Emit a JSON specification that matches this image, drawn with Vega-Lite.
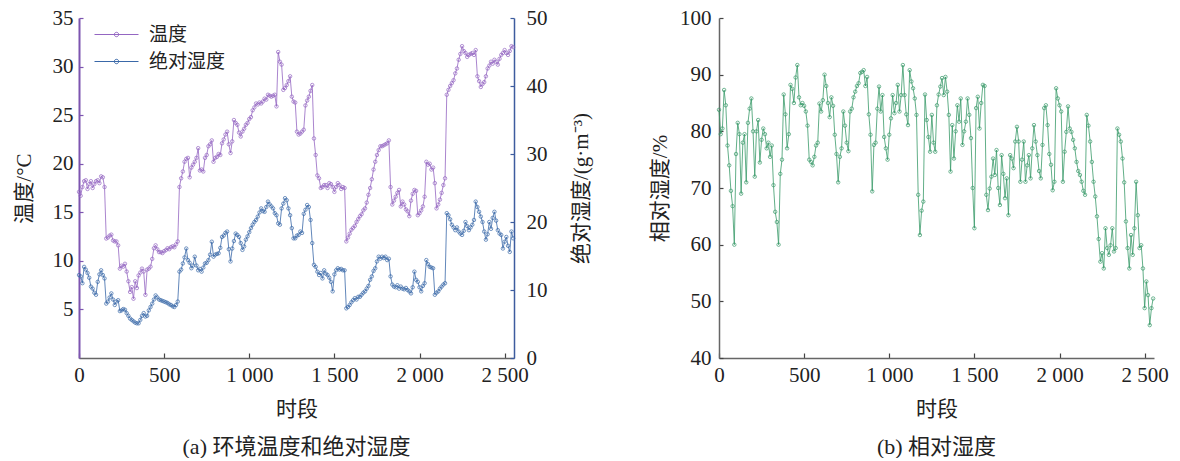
{
  "$schema": "https://vega.github.io/schema/vega-lite/v6.json",
  "background": "white",
  "padding": {"left": 13, "top": 7, "right": 0, "bottom": 0},
  "spacing": 58,
  "config": {
    "view": {"stroke": null},
    "axis": {"grid": false, "labelFont": "Liberation Serif", "labelFontSize": 21, "labelColor": "#222", "titleFont": "Liberation Serif, Noto Sans CJK SC", "titleFontSize": 21, "titleFontWeight": "normal", "titleColor": "#222", "tickWidth": 1.2},
    "title": {"font": "Liberation Serif, Noto Sans CJK SC", "fontSize": 22, "fontWeight": "normal", "color": "#222"}
  },
  "datasets": {
    "d": [
      {"t":0,"temp":17.1,"ah":12.2,"rh":83.8},{"t":10,"temp":16.7,"ah":12.0,"rh":79.5},{"t":20,"temp":17.6,"ah":11.0,"rh":80.5},{"t":30,"temp":18.2,"ah":13.4,"rh":87.3},{"t":40,"temp":18.3,"ah":13.0,"rh":84.6},{"t":50,"temp":17.4,"ah":12.5,"rh":77.5},{"t":60,"temp":17.9,"ah":11.8,"rh":74.0},{"t":70,"temp":18.2,"ah":10.5,"rh":69.5},{"t":80,"temp":17.5,"ah":10.2,"rh":66.8},{"t":90,"temp":17.9,"ah":9.6,"rh":60.0},
      {"t":100,"temp":18.2,"ah":9.3,"rh":76.0},{"t":110,"temp":18.3,"ah":11.2,"rh":81.5},{"t":120,"temp":18.0,"ah":12.3,"rh":79.5},{"t":130,"temp":18.7,"ah":12.9,"rh":69.0},{"t":140,"temp":18.6,"ah":12.2,"rh":78.0},{"t":150,"temp":17.6,"ah":11.7,"rh":79.5},{"t":160,"temp":12.3,"ah":8.0,"rh":71.0},{"t":170,"temp":12.4,"ah":8.3,"rh":81.5},{"t":180,"temp":12.6,"ah":8.9,"rh":84.0},{"t":190,"temp":12.7,"ah":9.5,"rh":85.8},
      {"t":200,"temp":12.1,"ah":8.6,"rh":80.0},{"t":210,"temp":12.0,"ah":7.8,"rh":72.0},{"t":220,"temp":12.0,"ah":8.3,"rh":80.0},{"t":230,"temp":11.6,"ah":8.5,"rh":82.0},{"t":240,"temp":9.2,"ah":6.9,"rh":74.5},{"t":250,"temp":9.5,"ah":7.0,"rh":78.5},{"t":260,"temp":9.4,"ah":7.2,"rh":80.5},{"t":270,"temp":9.7,"ah":7.1,"rh":79.5},{"t":280,"temp":8.9,"ah":6.6,"rh":77.0},{"t":290,"temp":7.9,"ah":6.2,"rh":78.0},
      {"t":300,"temp":6.8,"ah":5.8,"rh":75.5},{"t":310,"temp":7.3,"ah":5.6,"rh":77.5},{"t":320,"temp":6.1,"ah":5.4,"rh":70.5},{"t":330,"temp":7.9,"ah":5.2,"rh":65.8},{"t":340,"temp":7.2,"ah":5.1,"rh":64.0},{"t":350,"temp":8.5,"ah":5.1,"rh":60.0},{"t":360,"temp":8.8,"ah":5.6,"rh":72.5},{"t":370,"temp":9.2,"ah":6.2,"rh":75.0},{"t":380,"temp":8.9,"ah":6.6,"rh":86.5},{"t":390,"temp":6.5,"ah":6.1,"rh":83.0},
      {"t":400,"temp":9.1,"ah":6.2,"rh":77.0},{"t":410,"temp":9.2,"ah":7.0,"rh":79.5},{"t":420,"temp":9.4,"ah":7.5,"rh":88.2},{"t":430,"temp":10.2,"ah":8.0,"rh":87.5},{"t":440,"temp":11.3,"ah":8.6,"rh":85.0},{"t":450,"temp":11.6,"ah":9.2,"rh":89.5},{"t":460,"temp":11.2,"ah":8.9,"rh":91.7},{"t":470,"temp":10.9,"ah":8.6,"rh":86.0},{"t":480,"temp":10.9,"ah":8.5,"rh":84.6},{"t":490,"temp":10.8,"ah":8.4,"rh":85.0},
      {"t":500,"temp":11.0,"ah":8.3,"rh":84.5},{"t":510,"temp":11.1,"ah":8.2,"rh":83.5},{"t":520,"temp":11.3,"ah":8.1,"rh":81.0},{"t":530,"temp":11.2,"ah":7.9,"rh":75.0},{"t":540,"temp":11.4,"ah":7.8,"rh":74.6},{"t":550,"temp":11.5,"ah":7.6,"rh":74.0},{"t":560,"temp":11.4,"ah":7.5,"rh":75.5},{"t":570,"temp":11.7,"ah":7.8,"rh":77.5},{"t":580,"temp":12.0,"ah":8.3,"rh":78.0},{"t":590,"temp":17.6,"ah":12.7,"rh":84.9},
      {"t":600,"temp":18.5,"ah":13.0,"rh":83.5},{"t":610,"temp":19.2,"ah":13.9,"rh":85.5},{"t":620,"temp":20.2,"ah":14.8,"rh":90.0},{"t":630,"temp":20.5,"ah":16.1,"rh":88.0},{"t":640,"temp":20.6,"ah":14.4,"rh":85.0},{"t":650,"temp":18.6,"ah":14.0,"rh":82.5},{"t":660,"temp":19.6,"ah":13.2,"rh":86.0},{"t":670,"temp":19.9,"ah":13.6,"rh":84.5},{"t":680,"temp":20.2,"ah":14.9,"rh":79.4},{"t":690,"temp":20.6,"ah":13.6,"rh":76.0},
      {"t":700,"temp":21.6,"ah":12.9,"rh":71.0},{"t":710,"temp":19.3,"ah":13.1,"rh":75.5},{"t":720,"temp":19.4,"ah":12.7,"rh":77.0},{"t":730,"temp":19.2,"ah":13.3,"rh":83.5},{"t":740,"temp":20.6,"ah":13.9,"rh":81.0},{"t":750,"temp":20.9,"ah":14.0,"rh":78.0},{"t":760,"temp":21.8,"ah":14.4,"rh":76.5},{"t":770,"temp":22.0,"ah":15.2,"rh":83.5},{"t":780,"temp":22.4,"ah":17.1,"rh":84.0},{"t":790,"temp":20.2,"ah":14.9,"rh":86.0},
      {"t":800,"temp":20.6,"ah":15.2,"rh":87.0},{"t":810,"temp":20.7,"ah":15.3,"rh":88.0},{"t":820,"temp":21.0,"ah":15.4,"rh":88.5},{"t":830,"temp":20.9,"ah":16.2,"rh":90.3},{"t":840,"temp":22.1,"ah":17.8,"rh":90.5},{"t":850,"temp":22.5,"ah":18.0,"rh":90.8},{"t":860,"temp":23.0,"ah":18.4,"rh":88.0},{"t":870,"temp":23.3,"ah":18.6,"rh":89.6},{"t":880,"temp":22.0,"ah":16.0,"rh":83.0},{"t":890,"temp":21.1,"ah":14.2,"rh":79.4},
      {"t":900,"temp":22.3,"ah":16.1,"rh":69.4},{"t":910,"temp":24.5,"ah":17.2,"rh":77.6},{"t":920,"temp":24.2,"ah":18.3,"rh":78.0},{"t":930,"temp":24.0,"ah":18.1,"rh":84.0},{"t":940,"temp":23.2,"ah":17.8,"rh":87.9},{"t":950,"temp":22.8,"ah":16.9,"rh":83.5},{"t":960,"temp":23.3,"ah":15.9,"rh":86.4},{"t":970,"temp":23.6,"ah":16.4,"rh":79.0},{"t":980,"temp":24.0,"ah":17.4,"rh":77.0},{"t":990,"temp":24.2,"ah":17.9,"rh":75.0},
      {"t":1000,"temp":24.6,"ah":18.5,"rh":79.4},{"t":1010,"temp":24.8,"ah":19.1,"rh":82.3},{"t":1020,"temp":25.5,"ah":19.6,"rh":86.4},{"t":1030,"temp":25.8,"ah":20.0,"rh":83.2},{"t":1040,"temp":26.2,"ah":20.3,"rh":85.0},{"t":1050,"temp":26.1,"ah":20.8,"rh":88.2},{"t":1060,"temp":26.3,"ah":21.4,"rh":83.5},{"t":1070,"temp":26.2,"ah":22.0,"rh":86.4},{"t":1080,"temp":26.4,"ah":21.6,"rh":91.7},{"t":1090,"temp":26.7,"ah":21.5,"rh":86.4},
      {"t":1100,"temp":26.6,"ah":22.2,"rh":83.0},{"t":1110,"temp":27.1,"ah":23.0,"rh":81.1},{"t":1120,"temp":27.0,"ah":22.6,"rh":90.8},{"t":1130,"temp":26.9,"ah":22.3,"rh":88.8},{"t":1140,"temp":27.0,"ah":22.0,"rh":87.6},{"t":1150,"temp":27.1,"ah":21.3,"rh":85.8},{"t":1160,"temp":25.9,"ah":21.0,"rh":82.9},{"t":1170,"temp":31.5,"ah":19.8,"rh":68.8},{"t":1180,"temp":30.5,"ah":19.6,"rh":61.7},{"t":1190,"temp":30.2,"ah":22.0,"rh":66.0},
      {"t":1200,"temp":27.6,"ah":22.7,"rh":67.6},{"t":1210,"temp":27.8,"ah":23.5,"rh":86.5},{"t":1220,"temp":28.1,"ah":23.2,"rh":82.0},{"t":1230,"temp":28.5,"ah":22.0,"rh":79.0},{"t":1240,"temp":29.0,"ah":21.0,"rh":76.4},{"t":1250,"temp":26.9,"ah":19.1,"rh":82.9},{"t":1260,"temp":26.4,"ah":17.6,"rh":78.0},{"t":1270,"temp":26.3,"ah":17.6,"rh":76.4},{"t":1280,"temp":23.3,"ah":18.0,"rh":84.6},{"t":1290,"temp":23.0,"ah":18.1,"rh":86.5},
      {"t":1300,"temp":23.1,"ah":18.6,"rh":87.9},{"t":1310,"temp":23.3,"ah":18.4,"rh":89.4},{"t":1320,"temp":23.5,"ah":21.2,"rh":86.4},{"t":1330,"temp":26.0,"ah":21.8,"rh":89.6},{"t":1340,"temp":26.5,"ah":22.5,"rh":87.0},{"t":1350,"temp":26.9,"ah":22.2,"rh":82.9},{"t":1360,"temp":27.5,"ah":20.3,"rh":72.9},{"t":1370,"temp":28.1,"ah":16.9,"rh":81.1},{"t":1380,"temp":22.6,"ah":13.7,"rh":75.2},{"t":1390,"temp":20.9,"ah":13.4,"rh":80.0},
      {"t":1400,"temp":18.8,"ah":12.7,"rh":84.6},{"t":1410,"temp":18.5,"ah":12.2,"rh":81.7},{"t":1420,"temp":17.5,"ah":12.5,"rh":85.8},{"t":1430,"temp":17.6,"ah":11.7,"rh":77.6},{"t":1440,"temp":17.8,"ah":12.9,"rh":80.0},{"t":1450,"temp":17.8,"ah":12.4,"rh":81.7},{"t":1460,"temp":17.5,"ah":12.2,"rh":85.8},{"t":1470,"temp":18.0,"ah":11.8,"rh":82.9},{"t":1480,"temp":17.9,"ah":11.2,"rh":78.8},{"t":1490,"temp":17.6,"ah":9.8,"rh":70.0},
      {"t":1500,"temp":17.1,"ah":12.3,"rh":62.9},{"t":1510,"temp":17.6,"ah":12.9,"rh":84.1},{"t":1520,"temp":18.0,"ah":13.2,"rh":86.1},{"t":1530,"temp":17.8,"ah":13.0,"rh":80.5},{"t":1540,"temp":17.4,"ah":13.1,"rh":85.0},{"t":1550,"temp":17.6,"ah":12.9,"rh":88.2},{"t":1560,"temp":17.5,"ah":12.9,"rh":88.0},{"t":1570,"temp":12.0,"ah":7.3,"rh":68.8},{"t":1580,"temp":12.4,"ah":7.5,"rh":66.1},{"t":1590,"temp":12.8,"ah":7.8,"rh":69.9},
      {"t":1600,"temp":13.2,"ah":8.2,"rh":72.0},{"t":1610,"temp":13.4,"ah":8.5,"rh":75.2},{"t":1620,"temp":13.6,"ah":8.8,"rh":72.3},{"t":1630,"temp":14.0,"ah":8.6,"rh":76.7},{"t":1640,"temp":14.3,"ah":9.0,"rh":70.0},{"t":1650,"temp":14.6,"ah":9.0,"rh":67.0},{"t":1660,"temp":14.8,"ah":9.3,"rh":75.8},{"t":1670,"temp":15.2,"ah":9.6,"rh":72.5},{"t":1680,"temp":15.4,"ah":9.8,"rh":68.2},{"t":1690,"temp":16.0,"ah":10.2,"rh":71.7},
      {"t":1700,"temp":16.8,"ah":10.6,"rh":65.2},{"t":1710,"temp":17.5,"ah":11.5,"rh":75.8},{"t":1720,"temp":18.4,"ah":12.0,"rh":75.2},{"t":1730,"temp":19.4,"ah":12.8,"rh":73.5},{"t":1740,"temp":20.2,"ah":13.2,"rh":78.2},{"t":1750,"temp":20.9,"ah":14.2,"rh":80.8},{"t":1760,"temp":21.4,"ah":14.9,"rh":78.2},{"t":1770,"temp":21.8,"ah":14.6,"rh":71.1},{"t":1780,"temp":21.8,"ah":14.9,"rh":75.0},{"t":1790,"temp":21.9,"ah":14.7,"rh":78.2},
      {"t":1800,"temp":22.0,"ah":14.9,"rh":71.1},{"t":1810,"temp":22.1,"ah":14.4,"rh":74.0},{"t":1820,"temp":22.4,"ah":14.6,"rh":75.8},{"t":1830,"temp":17.6,"ah":12.0,"rh":71.7},{"t":1840,"temp":15.8,"ah":10.8,"rh":77.0},{"t":1850,"temp":16.2,"ah":10.5,"rh":81.1},{"t":1860,"temp":16.6,"ah":10.4,"rh":78.2},{"t":1870,"temp":17.0,"ah":10.7,"rh":75.8},{"t":1880,"temp":17.3,"ah":10.2,"rh":73.0},{"t":1890,"temp":15.6,"ah":10.5,"rh":71.7},
      {"t":1900,"temp":16.1,"ah":10.2,"rh":77.6},{"t":1910,"temp":15.8,"ah":10.1,"rh":84.1},{"t":1920,"temp":15.3,"ah":10.3,"rh":84.6},{"t":1930,"temp":15.1,"ah":10.0,"rh":81.1},{"t":1940,"temp":14.6,"ah":9.8,"rh":76.0},{"t":1950,"temp":16.2,"ah":9.5,"rh":74.1},{"t":1960,"temp":16.9,"ah":10.4,"rh":69.6},{"t":1970,"temp":17.3,"ah":12.7,"rh":71.1},{"t":1980,"temp":17.2,"ah":11.5,"rh":87.6},{"t":1990,"temp":14.7,"ah":11.2,"rh":85.8},
      {"t":2000,"temp":14.9,"ah":10.4,"rh":84.6},{"t":2010,"temp":15.2,"ah":9.8,"rh":83.5},{"t":2020,"temp":15.6,"ah":10.6,"rh":71.1},{"t":2030,"temp":16.6,"ah":11.0,"rh":76.4},{"t":2040,"temp":20.2,"ah":14.4,"rh":79.9},{"t":2050,"temp":19.9,"ah":13.8,"rh":84.4},{"t":2060,"temp":20.0,"ah":13.4,"rh":80.5},{"t":2070,"temp":19.4,"ah":13.3,"rh":79.9},{"t":2080,"temp":19.6,"ah":13.2,"rh":78.5},{"t":2090,"temp":18.0,"ah":9.3,"rh":77.0},
      {"t":2100,"temp":15.4,"ah":9.6,"rh":74.6},{"t":2110,"temp":15.8,"ah":9.8,"rh":73.0},{"t":2120,"temp":16.3,"ah":10.2,"rh":72.3},{"t":2130,"temp":17.0,"ah":10.5,"rh":71.1},{"t":2140,"temp":17.8,"ah":10.8,"rh":69.5},{"t":2150,"temp":18.5,"ah":11.0,"rh":68.8},{"t":2160,"temp":27.1,"ah":21.3,"rh":82.9},{"t":2170,"temp":27.6,"ah":21.0,"rh":81.0},{"t":2180,"temp":28.0,"ah":20.4,"rh":78.2},{"t":2190,"temp":28.3,"ah":19.6,"rh":74.6},
      {"t":2200,"temp":28.6,"ah":19.2,"rh":71.1},{"t":2210,"temp":29.3,"ah":18.8,"rh":68.5},{"t":2220,"temp":29.8,"ah":19.2,"rh":65.0},{"t":2230,"temp":30.7,"ah":18.6,"rh":61.0},{"t":2240,"temp":31.3,"ah":18.3,"rh":57.0},{"t":2250,"temp":32.1,"ah":18.1,"rh":58.5},{"t":2260,"temp":31.6,"ah":18.7,"rh":55.8},{"t":2270,"temp":31.4,"ah":20.0,"rh":62.9},{"t":2280,"temp":31.0,"ah":19.4,"rh":59.4},{"t":2290,"temp":31.2,"ah":18.8,"rh":58.2},
      {"t":2300,"temp":31.3,"ah":19.2,"rh":59.9},{"t":2310,"temp":31.4,"ah":19.6,"rh":62.9},{"t":2320,"temp":31.2,"ah":20.3,"rh":58.8},{"t":2330,"temp":31.7,"ah":23.0,"rh":59.4},{"t":2340,"temp":29.0,"ah":22.2,"rh":80.5},{"t":2350,"temp":28.5,"ah":21.5,"rh":79.4},{"t":2360,"temp":27.9,"ah":20.8,"rh":78.2},{"t":2370,"temp":28.2,"ah":20.0,"rh":75.2},{"t":2380,"temp":28.4,"ah":18.6,"rh":71.0},{"t":2390,"temp":29.0,"ah":17.4,"rh":64.1},
      {"t":2400,"temp":29.8,"ah":18.2,"rh":59.4},{"t":2410,"temp":30.1,"ah":20.0,"rh":55.8},{"t":2420,"temp":30.5,"ah":19.0,"rh":61.7},{"t":2430,"temp":30.3,"ah":20.6,"rh":58.2},{"t":2440,"temp":30.7,"ah":21.5,"rh":62.9},{"t":2450,"temp":30.5,"ah":20.2,"rh":71.1},{"t":2460,"temp":30.2,"ah":18.8,"rh":65.2},{"t":2470,"temp":30.8,"ah":18.3,"rh":59.4},{"t":2480,"temp":31.2,"ah":18.1,"rh":59.9},{"t":2490,"temp":31.4,"ah":16.1,"rh":55.8},
      {"t":2500,"temp":31.7,"ah":17.1,"rh":48.8},{"t":2510,"temp":31.4,"ah":17.8,"rh":53.5},{"t":2520,"temp":31.2,"ah":16.5,"rh":51.1},{"t":2530,"temp":31.6,"ah":15.6,"rh":45.8},{"t":2540,"temp":32.1,"ah":18.6,"rh":48.8},{"t":2550,"temp":32.0,"ah":17.6,"rh":50.5}
    ]
  },
  "hconcat": [
    {
      "width": 435,
      "height": 340,
      "data": {"name": "d"},
      "title": {"text": "(a) 环境温度和绝对湿度", "orient": "bottom", "offset": 18},
      "encoding": {
        "x": {"field": "t", "type": "quantitative", "scale": {"domain": [0, 2555], "nice": false, "zero": false},
          "axis": {"values": [0, 500, 1000, 1500, 2000, 2500], "labelExpr": "replace(format(datum.value, ','), ',', ' ')", "title": "时段", "domainColor": "#666", "domainWidth": 1.5, "tickColor": "#444", "tickSize": -5, "labelPadding": 11, "titlePadding": 13, "labelFlush": false}}
      },
      "layer": [
        {
          "mark": {"type": "line", "strokeWidth": 0.8, "point": {"filled": false, "size": 12, "strokeWidth": 0.7}},
          "encoding": {
            "y": {"field": "temp", "type": "quantitative", "scale": {"domain": [0, 35], "nice": false, "zero": false},
              "axis": {"orient": "left", "values": [5, 10, 15, 20, 25, 30, 35], "title": "温度/°C", "domainColor": "#7d55b0", "domainWidth": 2, "tickColor": "#7d55b0", "tickSize": -4, "labelPadding": 10, "titlePadding": 18}},
            "color": {"datum": "温度", "type": "nominal",
              "scale": {"domain": ["温度", "绝对湿度"], "range": ["#9466c2", "#3a68a8"]},
              "legend": {"title": null, "orient": "none", "legendX": 26, "legendY": 5, "padding": 0, "symbolType": "M-2,0L2,0M0.2,0A0.2,0.2,0,1,1,-0.2,0A0.2,0.2,0,1,1,0.2,0", "symbolSize": 484, "symbolStrokeWidth": 1, "symbolFillColor": "white", "labelFont": "Noto Sans CJK SC", "labelFontSize": 19, "labelColor": "#222", "labelOffset": 21, "rowPadding": 5}}
          }
        },
        {
          "mark": {"type": "line", "strokeWidth": 0.8, "point": {"filled": false, "size": 12, "strokeWidth": 0.7}},
          "encoding": {
            "y": {"field": "ah", "type": "quantitative", "scale": {"domain": [0, 50], "nice": false, "zero": false},
              "axis": {"orient": "right", "values": [0, 10, 20, 30, 40, 50], "title": "绝对湿度/(g·m⁻³)", "titleAngle": -90, "domainColor": "#3d5c9e", "domainWidth": 1.5, "tickColor": "#3d5c9e", "tickSize": -4, "labelPadding": 16, "titlePadding": 44}},
            "color": {"datum": "绝对湿度", "type": "nominal"}
          }
        }
      ],
      "resolve": {"scale": {"y": "independent"}}
    },
    {
      "width": 435,
      "height": 340,
      "data": {"name": "d"},
      "title": {"text": "(b) 相对湿度", "orient": "bottom", "offset": 18},
      "mark": {"type": "line", "color": "#3a9a6a", "strokeWidth": 0.8, "point": {"filled": false, "size": 12, "strokeWidth": 0.7, "color": "#3a9a6a"}},
      "encoding": {
        "x": {"field": "t", "type": "quantitative", "scale": {"domain": [0, 2555], "nice": false, "zero": false},
          "axis": {"values": [0, 500, 1000, 1500, 2000, 2500], "labelExpr": "replace(format(datum.value, ','), ',', ' ')", "title": "时段", "domainColor": "#666", "domainWidth": 1.5, "tickColor": "#444", "tickSize": -5, "labelPadding": 11, "titlePadding": 13, "labelFlush": false}},
        "y": {"field": "rh", "type": "quantitative", "scale": {"domain": [40, 100], "nice": false, "zero": false},
          "axis": {"values": [40, 50, 60, 70, 80, 90, 100], "title": "相对湿度/%", "domainColor": "#666", "domainWidth": 1.5, "tickColor": "#444", "tickSize": -4, "labelPadding": 12, "titlePadding": 9}}
      }
    }
  ]
}
